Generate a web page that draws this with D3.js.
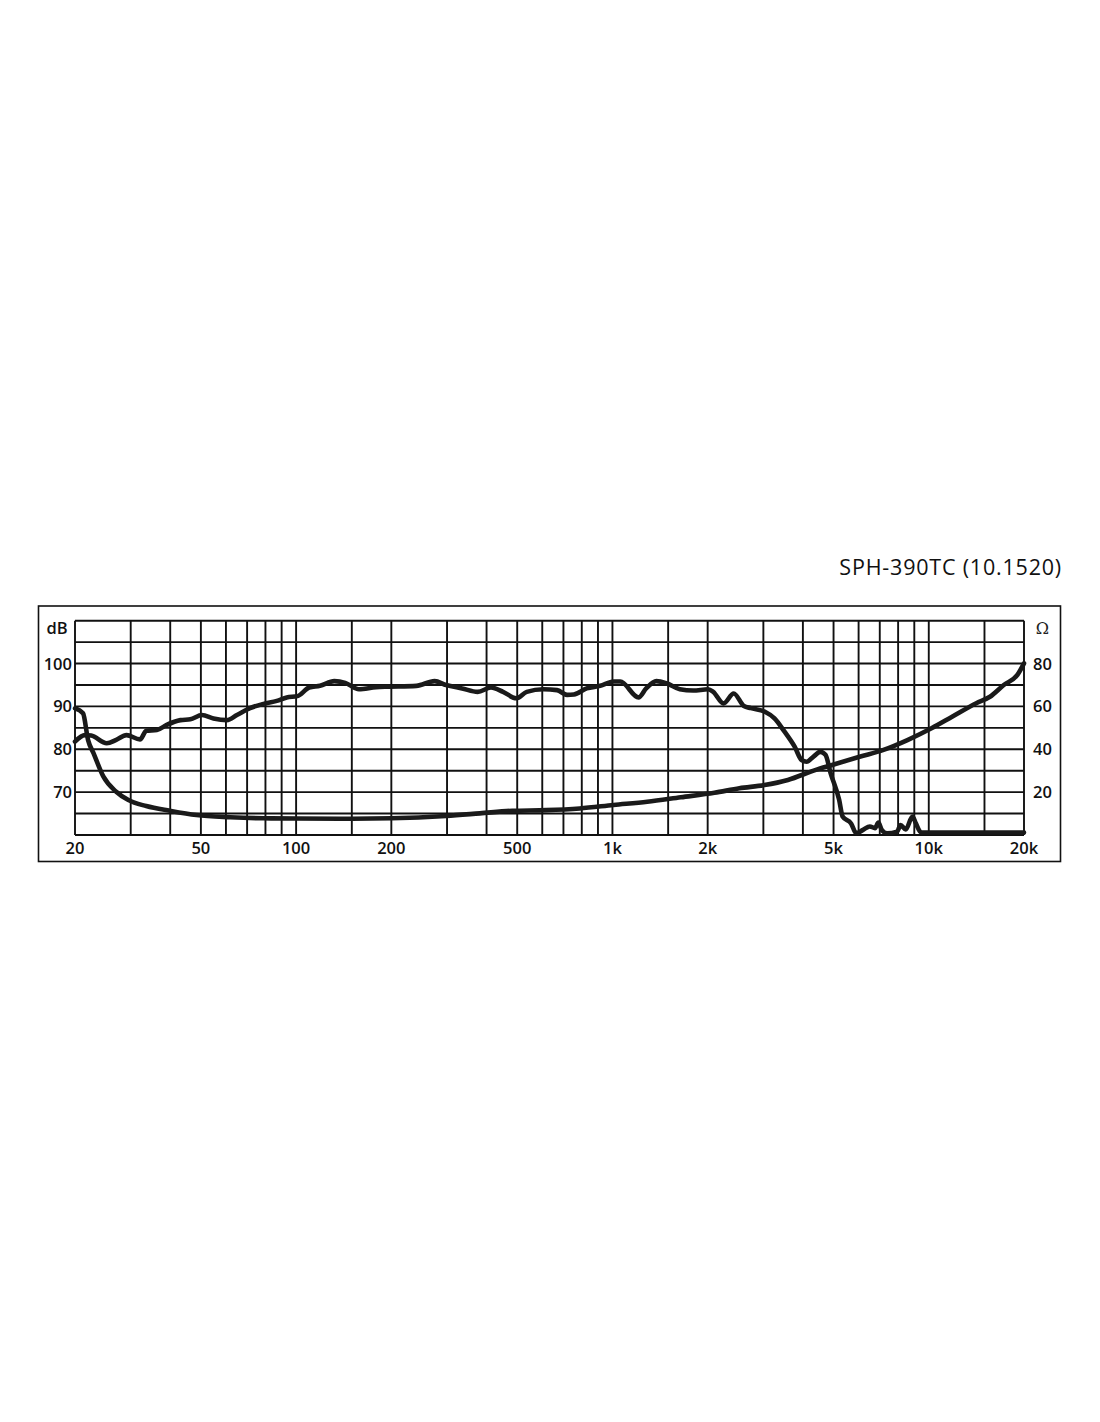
<!DOCTYPE html>
<html>
<head>
<meta charset="utf-8">
<script src="https://cdn.jsdelivr.net/npm/d3@7"></script>
<style>
  html, body { margin: 0; padding: 0; background: #fff; }
  svg { display: block; }
  .tick-label { font-family: "Open Sans", "Noto Sans", sans-serif; font-size: 16.5px; font-weight: 600; fill: #111; }
  .ohm { font-family: "DejaVu Serif", "Liberation Serif", serif; font-size: 16px; fill: #222; }
  .title { font-family: "Open Sans", "Noto Sans", sans-serif; font-size: 21.5px; letter-spacing: 0.8px; fill: #111; }
</style>
</head>
<body>
<svg id="chart" width="1100" height="1422"></svg>
<script>
// frequency response (dB) traced from the sheet
const splFreq = [20, 21.5, 22.5, 25.2, 27, 29.1, 32.1, 33.6, 36.3, 39, 43.1, 46.3, 50.4, 54.8, 60.4, 65, 71.5, 78.9, 86.9, 93.4, 100.9, 110, 119, 132, 143, 158, 179, 197, 240, 274, 298, 335, 375, 413, 451, 497, 536, 605, 668, 719, 755, 829, 915, 1008, 1059, 1209, 1278, 1377, 1481, 1633, 1799, 2007, 2082, 2244, 2418, 2603, 2739, 3024, 3253, 3500, 3767, 3962, 4113, 4322, 4541, 4714, 4896, 5208, 5341, 5680, 5898, 6198, 6513, 6761, 6930, 7103, 7377, 7943, 8142, 8456, 8881, 9105, 9455, 20000];
const splDb = [81.8, 83.3, 83.2, 81.4, 82.2, 83.3, 82.3, 84.3, 84.5, 85.7, 86.8, 87, 88, 87.2, 86.8, 88, 89.6, 90.6, 91.3, 92.1, 92.4, 94.4, 94.8, 95.9, 95.5, 94, 94.5, 94.6, 94.8, 95.9, 95, 94.2, 93.4, 94.4, 93.4, 91.9, 93.4, 94, 93.8, 92.7, 92.8, 94.2, 94.8, 95.8, 95.8, 92.1, 94.2, 95.9, 95.4, 94, 93.7, 94, 93.4, 90.7, 93, 90.1, 89.6, 88.8, 87.2, 84.1, 80.6, 77.5, 77.1, 78.3, 79.4, 78.7, 74.4, 68.2, 64.3, 62.7, 60.4, 61.2, 62, 61.6, 62.9, 61.2, 60.4, 60.8, 62.3, 61.3, 64.3, 62.7, 60.6, 60.6];

// impedance (ohm)
const impFreq = [20, 21.2, 22, 22.9, 24.6, 27, 29.5, 33.6, 39.9, 48.4, 61.9, 78.9, 100, 150, 200, 298, 381, 483, 617, 788, 1008, 1288, 1645, 2101, 2519, 3024, 3586, 4373, 4951, 6044, 7193, 8561, 10200, 11850, 14130, 15610, 17260, 19060, 20000];
const impOhm = [59.1, 56.8, 44.3, 38.1, 27.2, 20.2, 16.3, 13.5, 11.3, 9.3, 8.3, 7.8, 7.7, 7.6, 7.8, 8.9, 10.1, 11.3, 11.6, 12.4, 14, 15.5, 17.6, 19.7, 21.8, 23.3, 25.7, 30.3, 32.7, 36.5, 39.7, 44.3, 49.8, 55.2, 61.5, 64.5, 70, 74.7, 80.1];

// grid and labels
const gridFreqs = [20, 30, 40, 50, 60, 70, 80, 90, 100, 150, 200, 300, 400, 500, 600, 700, 800, 900, 1000, 1500, 2000, 3000, 4000, 5000, 6000, 7000, 8000, 9000, 10000, 15000, 20000];
const xTickValues = [20, 50, 100, 200, 500, 1000, 2000, 5000, 10000, 20000];
const xTickLabels = ["20", "50", "100", "200", "500", "1k", "2k", "5k", "10k", "20k"];
const dbTicks = [100, 90, 80, 70];
const ohmTicks = [80, 60, 40, 20];
const titleText = "SPH-390TC (10.1520)";

const svg = d3.select("#chart");
const plotLeft = 75, plotRight = 1024, plotTop = 620.7, plotBottom = 835;

const x = d3.scaleLog().domain([20, 20000]).range([plotLeft, plotRight]);
const yDb = d3.scaleLinear().domain([60, 110]).range([plotBottom, plotTop]);
const yOhm = d3.scaleLinear().domain([0, 100]).range([plotBottom, plotTop]);

// outer frame
svg.append("rect")
    .attr("x", 38.5).attr("y", 606)
    .attr("width", 1022).attr("height", 255.5)
    .attr("fill", "none").attr("stroke", "#111").attr("stroke-width", 1.6);

svg.append("text")
    .attr("class", "title")
    .attr("x", 1062).attr("y", 575)
    .attr("text-anchor", "end")
    .text(titleText);

// grid
const grid = svg.append("g").attr("stroke", "#111").attr("stroke-width", 1.9);
grid.selectAll("line.v")
    .data(gridFreqs)
    .enter().append("line")
    .attr("class", "v")
    .attr("x1", d => x(d)).attr("x2", d => x(d))
    .attr("y1", plotTop).attr("y2", plotBottom);

grid.selectAll("line.h")
    .data(d3.range(60, 110.1, 5))
    .enter().append("line")
    .attr("class", "h")
    .attr("x1", plotLeft).attr("x2", plotRight)
    .attr("y1", d => yDb(d)).attr("y2", d => yDb(d));

// axis labels
svg.selectAll("text.xl")
    .data(xTickValues)
    .enter().append("text")
    .attr("class", "tick-label xl")
    .attr("x", d => x(d))
    .attr("y", 854)
    .attr("text-anchor", "middle")
    .text((d, i) => xTickLabels[i]);

svg.selectAll("text.yl")
    .data(dbTicks)
    .enter().append("text")
    .attr("class", "tick-label yl")
    .attr("x", 72)
    .attr("y", d => yDb(d))
    .attr("dy", "0.36em")
    .attr("text-anchor", "end")
    .text(d => d);

svg.append("text")
    .attr("class", "tick-label")
    .attr("x", 57).attr("y", 628.5)
    .attr("dy", "0.36em")
    .attr("text-anchor", "middle")
    .text("dB");

svg.selectAll("text.yr")
    .data(ohmTicks)
    .enter().append("text")
    .attr("class", "tick-label yr")
    .attr("x", 1033)
    .attr("y", d => yOhm(d))
    .attr("dy", "0.36em")
    .attr("text-anchor", "start")
    .text(d => d);

svg.append("text")
    .attr("class", "ohm")
    .attr("x", 1042.5).attr("y", 628)
    .attr("dy", "0.36em")
    .attr("text-anchor", "middle")
    .text("Ω");

// curves
const splLine = d3.line()
    .x(d => x(d[0]))
    .y(d => yDb(d[1]))
    .curve(d3.curveMonotoneX);

const impLine = d3.line()
    .x(d => x(d[0]))
    .y(d => yOhm(d[1]))
    .curve(d3.curveMonotoneX);

svg.append("path")
    .datum(d3.zip(impFreq, impOhm))
    .attr("d", impLine)
    .attr("fill", "none")
    .attr("stroke", "#1a1a1a")
    .attr("stroke-width", 4.6)
    .attr("stroke-linejoin", "round")
    .attr("stroke-linecap", "round");

svg.append("path")
    .datum(d3.zip(splFreq, splDb))
    .attr("d", splLine)
    .attr("fill", "none")
    .attr("stroke", "#1a1a1a")
    .attr("stroke-width", 4.6)
    .attr("stroke-linejoin", "round")
    .attr("stroke-linecap", "round");
</script>
</body>
</html>
